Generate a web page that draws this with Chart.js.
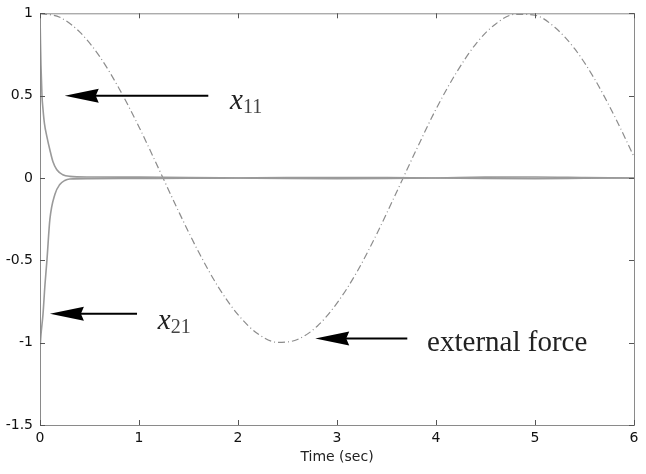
<!DOCTYPE html>
<html lang="en">
<head>
<meta charset="UTF-8">
<title>x11, x21 and external force</title>
<script src="https://cdn.jsdelivr.net/npm/chart.js"></script>
<style>
  body { margin: 0; background: white; }
</style>
</head>
<body>
<canvas id="chart" width="646" height="474"></canvas>
<script>
// external force (dash-dot), sampled every 0.2 s
const forceTime = [0, 0.2, 0.4, 0.6, 0.8, 1.0, 1.2, 1.4, 1.6, 1.8, 2.0, 2.2, 2.4, 2.6, 2.8, 3.0,
  3.2, 3.4, 3.6, 3.8, 4.0, 4.2, 4.4, 4.6, 4.8, 5.0, 5.2, 5.4, 5.6, 5.8, 6.0];
const forceValues = [0.999, 0.976, 0.887, 0.740, 0.542, 0.310, 0.055, -0.203, -0.447, -0.661, -0.830,
  -0.946, -0.998, -0.981, -0.900, -0.760, -0.572, -0.342, -0.088, 0.170, 0.418, 0.634, 0.812,
  0.934, 0.994, 0.988, 0.915, 0.785, 0.603, 0.379, 0.129];

// x11 state
const x11Time = [0, 0.005, 0.01, 0.02, 0.03, 0.045, 0.07, 0.1, 0.13, 0.17, 0.23, 0.3, 0.5, 1, 1.5, 2, 2.5, 3, 3.5, 4, 4.5, 5, 5.5, 6];
const x11Values = [1, 0.82, 0.68, 0.5, 0.42, 0.33, 0.25, 0.17, 0.1, 0.05, 0.02, 0.01, 0.006, 0.005, 0.003, 0, -0.003,
  -0.004, -0.003, 0, 0.005, 0.006, 0.003, 0];

// x21 state
const x21Time = [0, 0.01, 0.03, 0.05, 0.07, 0.1, 0.15, 0.2, 0.25, 0.3, 0.5, 1, 1.5, 2, 2.5, 3, 3.5, 4, 4.5, 5, 5.5, 6];
const x21Values = [-1.04, -0.95, -0.83, -0.65, -0.5, -0.25, -0.1, -0.04, -0.015, -0.006, -0.004, -0.003,
  -0.002, 0, 0.002, 0.003, 0.002, 0, -0.003, -0.004, -0.002, 0];

const xTicks = [0, 1, 2, 3, 4, 5, 6];
const yTicks = [1, 0.5, 0, -0.5, -1, -1.5];

// arrows: tip and tail in data units, then the label
const arrows = [
  { tip: [0.25, 0.5], tail: [1.70, 0.5] },
  { tip: [0.10, -0.825], tail: [0.98, -0.825] },
  { tip: [2.78, -0.975], tail: [3.71, -0.975] }
];
const labels = [
  { at: [1.92, 0.416], main: 'x', sub: '11' },
  { at: [1.19, -0.916], main: 'x', sub: '21' },
  { at: [3.91, -1.048], main: 'external force', sub: '' }
];

function pairs(t, v) {
  return t.map((x, i) => ({ x: x, y: v[i] }));
}

const boxPlugin = {
  id: 'box',
  afterDraw(chart) {
    const ctx = chart.ctx;
    const xs = chart.scales.x, ys = chart.scales.y;
    const a = chart.chartArea;
    ctx.save();
    ctx.strokeStyle = '#8a8a8a';
    ctx.lineWidth = 1;
    ctx.strokeRect(a.left + 0.5, a.top + 0.5, a.right - a.left, a.bottom - a.top);
    ctx.strokeStyle = '#555';
    ctx.beginPath();
    xTicks.forEach(v => {
      const px = Math.round(xs.getPixelForValue(v)) + 0.5;
      ctx.moveTo(px, a.bottom); ctx.lineTo(px, a.bottom - 5);
      ctx.moveTo(px, a.top); ctx.lineTo(px, a.top + 5);
    });
    yTicks.forEach(v => {
      const py = Math.round(ys.getPixelForValue(v)) + 0.5;
      ctx.moveTo(a.left, py); ctx.lineTo(a.left + 5, py);
      ctx.moveTo(a.right, py); ctx.lineTo(a.right - 5, py);
    });
    ctx.stroke();

    // arrows
    ctx.fillStyle = '#000';
    ctx.strokeStyle = '#000';
    ctx.lineWidth = 2;
    arrows.forEach(ar => {
      const tx = xs.getPixelForValue(ar.tip[0]), ty = ys.getPixelForValue(ar.tip[1]);
      const ex = xs.getPixelForValue(ar.tail[0]);
      ctx.beginPath();
      ctx.moveTo(tx + 10, ty); ctx.lineTo(ex, ty);
      ctx.stroke();
      ctx.beginPath();
      ctx.moveTo(tx, ty);
      ctx.lineTo(tx + 34, ty - 7);
      ctx.lineTo(tx + 31, ty);
      ctx.lineTo(tx + 34, ty + 7);
      ctx.closePath();
      ctx.fill();
    });

    // labels
    ctx.textBaseline = 'alphabetic';
    ctx.textAlign = 'left';
    labels.forEach(lb => {
      const px = xs.getPixelForValue(lb.at[0]), py = ys.getPixelForValue(lb.at[1]);
      if (lb.sub) {
        ctx.font = 'italic 29px "Liberation Serif", serif';
        ctx.fillStyle = '#222';
        ctx.fillText(lb.main, px, py);
        const w = ctx.measureText(lb.main).width;
        ctx.font = '20px "Liberation Serif", serif';
        ctx.fillStyle = '#444';
        ctx.fillText(lb.sub, px + w, py + 4);
      } else {
        ctx.font = '29px "Liberation Serif", serif';
        ctx.fillStyle = '#222';
        ctx.fillText(lb.main, px, py);
      }
    });
    ctx.restore();
  }
};

new Chart(document.getElementById('chart'), {
  type: 'line',
  data: {
    datasets: [
      {
        label: 'x11',
        data: pairs(x11Time, x11Values),
        borderColor: '#9a9a9a',
        borderWidth: 1.6,
        pointRadius: 0,
        cubicInterpolationMode: 'monotone'
      },
      {
        label: 'x21',
        data: pairs(x21Time, x21Values),
        borderColor: '#9a9a9a',
        borderWidth: 1.6,
        pointRadius: 0,
        cubicInterpolationMode: 'monotone'
      },
      {
        label: 'external force',
        data: pairs(forceTime, forceValues),
        borderColor: '#8c8c8c',
        borderWidth: 1.2,
        borderDash: [7, 3, 1, 3],
        pointRadius: 0,
        cubicInterpolationMode: 'monotone'
      }
    ]
  },
  options: {
    responsive: false,
    animation: false,
    layout: { padding: { left: 0, right: 12, top: 4, bottom: 0 } },
    plugins: { legend: { display: false }, tooltip: { enabled: false } },
    scales: {
      x: {
        type: 'linear',
        min: 0,
        max: 6,
        grid: { display: false, drawTicks: false },
        border: { display: false },
        ticks: {
          stepSize: 1,
          padding: 5,
          color: '#111',
          font: { family: '"DejaVu Sans", sans-serif', size: 14 },
          callback: v => String(v)
        },
        title: {
          display: true,
          text: 'Time (sec)',
          color: '#222',
          font: { family: '"DejaVu Sans", sans-serif', size: 14 },
          padding: { top: 0, bottom: 8 }
        },
        afterFit: s => { s.height = 49; }
      },
      y: {
        min: -1.5,
        max: 1,
        grid: { display: false, drawTicks: false },
        border: { display: false },
        ticks: {
          stepSize: 0.5,
          padding: 7,
          color: '#111',
          font: { family: '"DejaVu Sans", sans-serif', size: 14, lineHeight: 0.9 },
          callback: v => String(v)
        },
        afterFit: s => { s.width = 40; }
      }
    }
  },
  plugins: [boxPlugin]
});
</script>
</body>
</html>
